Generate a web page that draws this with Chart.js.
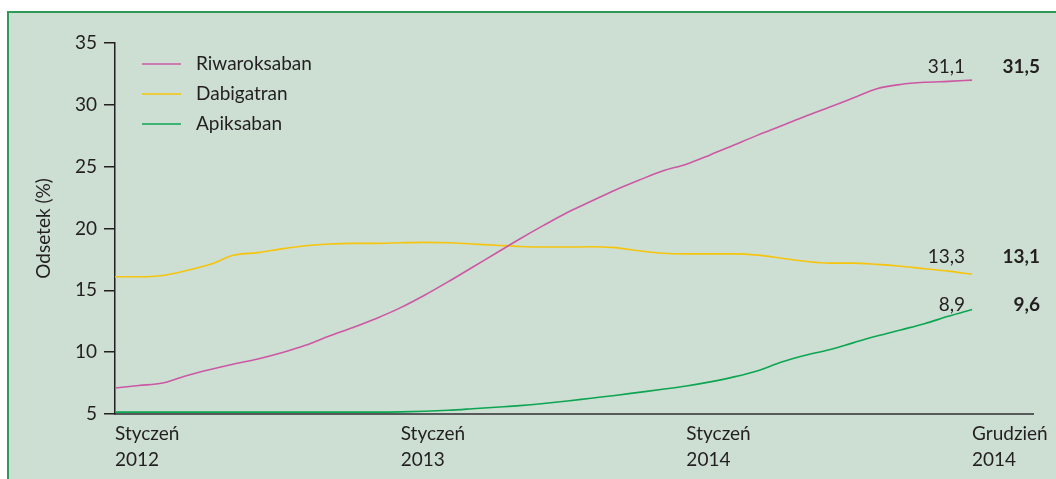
<!DOCTYPE html>
<html>
<head>
<meta charset="utf-8">
<script src="https://cdn.jsdelivr.net/npm/chart.js@4.4.1/dist/chart.umd.min.js"></script>
<style>
  html, body { margin: 0; padding: 0; background: #ffffff; }
  #wrap { position: relative; width: 1056px; height: 479px; overflow: hidden; }
  #frame { position: absolute; left: 7px; top: 11px; width: 1049px; height: 468px;
           background: #cddfd3; border-top: 2px solid #2f9a58; border-left: 2px solid #2f9a58; box-sizing: border-box; }
  #c { position: absolute; left: 0; top: 0; }
</style>
</head>
<body>
<div id="wrap">
  <div id="frame"></div>
  <canvas id="c" width="1056" height="479"></canvas>
</div>
<script>
// Month index from January 2012 (0) to end of December 2014 (36)
const months = [0,1,2,3,4,5,6,7,8,9,10,11,12,13,14,15,16,17,18,19,20,21,22,23,24,25,26,27,28,29,30,31,32,33,34,35,36];

const seriesNames = ['Riwaroksaban', 'Dabigatran', 'Apiksaban'];

const riwaroksaban = [7.1,7.3,7.5,8.1,8.6,9.05,9.45,9.95,10.55,11.3,12.0,12.75,
                      13.6,14.6,15.7,16.85,18.0,19.15,20.25,21.3,22.2,23.1,23.9,24.65,
                      25.2,25.95,26.75,27.55,28.3,29.07,29.8,30.55,31.3,31.65,31.82,31.9,32.0];

const dabigatran = [16.1,16.1,16.2,16.6,17.1,17.85,18.05,18.35,18.6,18.75,18.8,18.8,
                    18.85,18.88,18.85,18.75,18.65,18.55,18.5,18.5,18.52,18.45,18.2,18.0,
                    17.95,17.95,17.95,17.85,17.6,17.35,17.2,17.2,17.1,16.95,16.75,16.55,16.3];

const apiksaban = [5.15,5.15,5.15,5.15,5.15,5.15,5.15,5.15,5.15,5.15,5.15,5.15,
                   5.17,5.22,5.3,5.42,5.55,5.68,5.85,6.05,6.28,6.5,6.75,7.0,
                   7.27,7.6,8.0,8.5,9.2,9.75,10.2,10.75,11.3,11.8,12.3,12.9,13.45];

const tickPositions = [0, 12, 24, 36];
const tickLabels = [['Styczeń','2012'], ['Styczeń','2013'], ['Styczeń','2014'], ['Grudzień','2014']];

const yTicks = [5, 10, 15, 20, 25, 30, 35];

const endValues2013 = ['31,1', '13,3', '8,9'];
const endValues2014 = ['31,5', '13,1', '9,6'];

const colors = ['#cc58a4', '#f6c40c', '#0ea552'];
const textColor = '#231f20';
const FONT = 'Lato, "Open Sans", sans-serif';
const FS = 19;

function toPoints(vals) { return vals.map((v, i) => ({ x: months[i], y: v })); }

const overlayPlugin = {
  id: 'overlay',
  afterDatasetsDraw(chart) {
    const ctx = chart.ctx;
    ctx.save();
    // legend
    const legY = [64, 94, 124];
    seriesNames.forEach((name, i) => {
      ctx.strokeStyle = colors[i];
      ctx.lineWidth = 1.6;
      ctx.beginPath();
      ctx.moveTo(142, legY[i]);
      ctx.lineTo(181, legY[i]);
      ctx.stroke();
      ctx.fillStyle = textColor;
      ctx.font = FS + 'px ' + FONT;
      ctx.textAlign = 'left';
      ctx.textBaseline = 'middle';
      ctx.fillText(name, 196, legY[i]);
    });
    // end value annotations
    const annY = [73, 263, 311];
    endValues2013.forEach((t, i) => {
      ctx.fillStyle = textColor;
      ctx.font = FS + 'px ' + FONT;
      ctx.textAlign = 'right';
      ctx.textBaseline = 'alphabetic';
      ctx.fillText(t, 965, annY[i]);
      ctx.font = 'bold ' + FS + 'px ' + FONT;
      ctx.fillText(endValues2014[i], 1040, annY[i]);
    });
    ctx.restore();
  }
};

new Chart(document.getElementById('c'), {
  type: 'line',
  data: {
    datasets: [
      { label: seriesNames[0], data: toPoints(riwaroksaban), borderColor: colors[0] },
      { label: seriesNames[1], data: toPoints(dabigatran), borderColor: colors[1] },
      { label: seriesNames[2], data: toPoints(apiksaban), borderColor: colors[2] }
    ]
  },
  options: {
    responsive: false,
    animation: false,
    devicePixelRatio: 1,
    events: [],
    layout: { padding: { left: 0, right: 19, top: 43, bottom: 0 } },
    elements: {
      point: { radius: 0 },
      line: { borderWidth: 1.6, tension: 0.4, cubicInterpolationMode: 'monotone', fill: false }
    },
    plugins: { legend: { display: false }, tooltip: { enabled: false } },
    scales: {
      x: {
        type: 'linear',
        min: 0,
        max: 38.6,
        afterBuildTicks(scale) { scale.ticks = tickPositions.map(v => ({ value: v })); },
        afterFit(scale) { scale.height = 65; },
        grid: { display: false, drawTicks: false, tickLength: 0 },
        border: { display: true, color: '#58595b', width: 2 },
        ticks: {
          align: 'start',
          maxRotation: 0,
          autoSkip: false,
          padding: 7,
          color: textColor,
          font: { family: FONT, size: FS, lineHeight: 1.36 },
          callback(value) {
            const idx = tickPositions.indexOf(value);
            return idx >= 0 ? tickLabels[idx] : '';
          }
        }
      },
      y: {
        min: 5,
        max: 35,
        afterBuildTicks(scale) { scale.ticks = yTicks.map(v => ({ value: v })); },
        afterFit(scale) { scale.width = 115; },
        grid: { display: true, drawOnChartArea: false, drawTicks: true, tickLength: 11, color: textColor, lineWidth: 1.5 },
        border: { display: true, color: textColor, width: 1.5 },
        ticks: {
          padding: 7,
          color: textColor,
          font: { family: FONT, size: FS }
        },
        title: {
          display: true,
          text: 'Odsetek (%)',
          color: textColor,
          font: { family: FONT, size: FS, lineHeight: 1.2 },
          padding: { top: 32, bottom: 0 }
        }
      }
    }
  },
  plugins: [overlayPlugin]
});
</script>
</body>
</html>
